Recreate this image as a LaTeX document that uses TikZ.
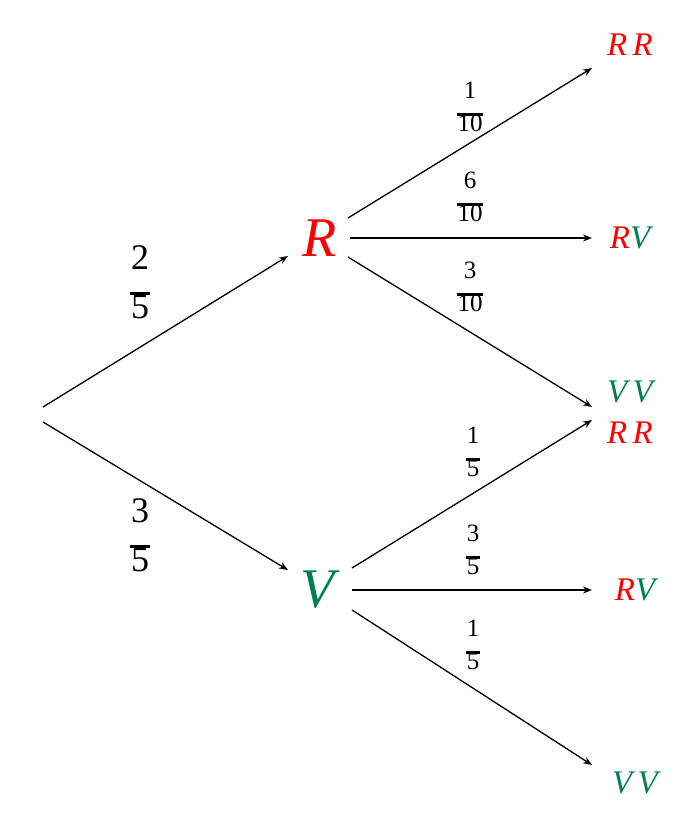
\documentclass[tikz,border=0pt]{standalone}
\usepackage{fontspec}
\setmainfont{Liberation Serif}
\usetikzlibrary{arrows.meta}
\newcommand{\myfr}[2]{\begin{tabular}{@{}c@{}}#1\\[-0.3em]\rule{0.55em}{0.1em}\\[-0.35em]#2\end{tabular}}
\newcommand{\myfrw}[2]{\begin{tabular}{@{}c@{}}#1\\[-0.3em]\rule{1.05em}{0.1em}\\[-0.35em]#2\end{tabular}}
\begin{document}
\begin{tikzpicture}[x=1pt,y=-1pt,
  big/.style={font=\fontsize{56}{56}\selectfont\itshape},
  leaf/.style={font=\fontsize{33}{33}\selectfont\itshape},
  fr/.style={font=\fontsize{25}{25}\selectfont},
  frb/.style={font=\fontsize{36}{36}\selectfont},
  e/.style={-{Stealth[length=9pt,width=7pt]},line width=1.3pt}]
\definecolor{gr}{RGB}{0,128,80}
\useasboundingbox (0,0) rectangle (700,834);
\node[big,red] (R) at (320,238) {R};
\node[big,gr] (V) at (318,590) {V};
\coordinate (a1) at (43,407); \coordinate (a2) at (43,422);
\coordinate (r1) at (348,218); \coordinate (r2) at (350,238); \coordinate (r3) at (348,257);
\coordinate (v1) at (352,568); \coordinate (v2) at (352,590); \coordinate (v3) at (352,610);
\coordinate (rin) at (288,256); \coordinate (vin) at (288,570);
\coordinate (l1) at (592,68); \coordinate (l2) at (592,238); \coordinate (l3) at (592,407);
\coordinate (l4) at (592,420); \coordinate (l5) at (592,590); \coordinate (l6) at (592,765);
\node[leaf] (n1) at (630,45) {\textcolor{red}{R\,R}};
\node[leaf] (n2) at (630,238) {\textcolor{red}{R}\textcolor{gr}{V}};
\node[leaf] (n3) at (630,392) {\textcolor{gr}{V\,V}};
\node[leaf] (n4) at (630,433) {\textcolor{red}{R\,R}};
\node[leaf] (n5) at (635,590) {\textcolor{red}{R}\textcolor{gr}{V}};
\node[leaf] (n6) at (635,783) {\textcolor{gr}{V\,V}};
\draw[e] (a1) -- (rin);
\draw[e] (a2) -- (vin);
\draw[e] (r1) -- (l1); \draw[e] (r2) -- (l2); \draw[e] (r3) -- (l3);
\draw[e] (v1) -- (l4); \draw[e] (v2) -- (l5); \draw[e] (v3) -- (l6);
\node[frb] (f1) at (140,287) {\myfr{2}{5}};
\node[frb] (f2) at (140,540) {\myfr{3}{5}};
\node[fr] (f3) at (470,110) {\myfrw{1}{10}};
\node[fr] (f4) at (470,200) {\myfrw{6}{10}};
\node[fr] (f5) at (470,290) {\myfrw{3}{10}};
\node[fr] (f6) at (473,455) {\myfr{1}{5}};
\node[fr] (f7) at (473,553) {\myfr{3}{5}};
\node[fr] (f8) at (473,648) {\myfr{1}{5}};
\end{tikzpicture}
\end{document}
